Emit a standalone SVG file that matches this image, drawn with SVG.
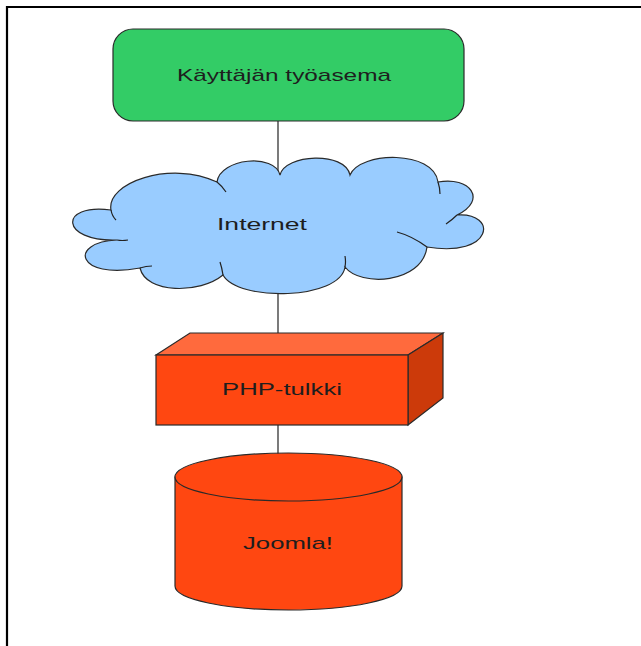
<svg xmlns="http://www.w3.org/2000/svg" width="641" height="646" viewBox="0 0 641 646">
<style>
.lbl{font-family:"Liberation Sans",Arial,sans-serif;font-size:17px;fill:#1e1e1e;text-anchor:middle}
.edge{stroke:#222;stroke-width:1.2;fill:none}
.ol{stroke:#2a2a2a;stroke-width:1.2}
</style>
<rect width="641" height="646" fill="#fff"/>
<path d="M7,646 V7 H641" fill="none" stroke="#000" stroke-width="2.2"/>
<g id="connectors">
<line class="edge" x1="278" y1="121" x2="278" y2="176"/>
<line class="edge" x1="278" y1="290" x2="278" y2="334"/>
<line class="edge" x1="278" y1="425" x2="278" y2="454"/>
</g>
<g id="workstation">
<rect class="ol" x="113" y="29" width="351" height="92" rx="20" fill="#33cc66"/>
<text class="lbl" x="284" y="81" textLength="214" lengthAdjust="spacingAndGlyphs">Käyttäjän työasema</text>
</g>
<g id="internet">
<path class="ol" fill="#99ccff" d="M111,210 C106,183 170,160 217,182 C220,158 275,153 280,175 C285,154 345,151 350,175 C360,151 434,150 438,182 C470,176 488,200 457,215 C498,212 494,258 427,247 C422,284 360,287 345,267 C340,300 238,302 223,275 C200,294 146,294 140,268 C76,280 68,242 117,240 C60,242 58,203 111,210 Z"/>
<path class="edge" d="M111,210 Q112,216 116,220 M217,182 Q222,186 226,192 M438,182 Q440,188 440,194 M457,215 Q452,220 446,224 M427,247 Q412,236 397,232 M345,267 Q346,262 345,256 M223,275 Q222,268 220,262 M140,268 Q146,266 152,266 M117,240 Q122,241 128,240"/>
<text class="lbl" x="262" y="230" textLength="90" lengthAdjust="spacingAndGlyphs">Internet</text>
</g>
<g id="php">
<polygon class="ol" points="156,355 190,333 443,333 408,355" fill="#ff6a3d"/>
<polygon class="ol" points="408,355 443,333 443,398 408,425" fill="#cc3a0a"/>
<rect class="ol" x="156" y="355" width="252" height="70" fill="#ff4711"/>
<text class="lbl" x="282" y="395" textLength="120" lengthAdjust="spacingAndGlyphs">PHP-tulkki</text>
</g>
<g id="joomla">
<path class="ol" fill="#ff4711" d="M175,477 V586 A113.5,24 0 0 0 402,586 V477 Z"/>
<ellipse class="ol" cx="288.5" cy="477" rx="113.5" ry="24" fill="#ff4711"/>
<text class="lbl" x="288" y="549" textLength="90" lengthAdjust="spacingAndGlyphs">Joomla!</text>
</g>
</svg>
